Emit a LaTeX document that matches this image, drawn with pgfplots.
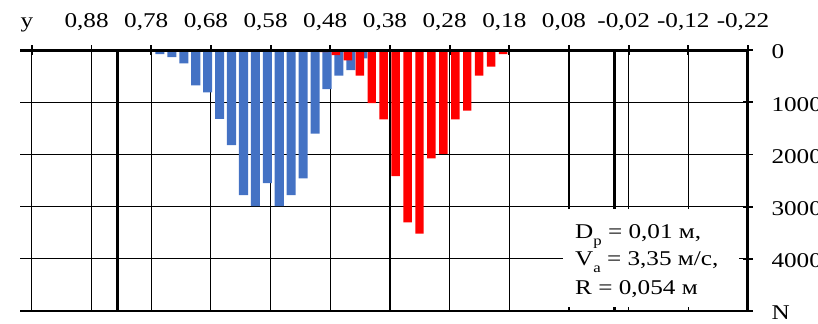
\documentclass[border=0pt]{standalone}
\usepackage{pgfplots}
\pgfplotsset{compat=1.18}
\usepackage{pgfplotstable}
\usepackage{fontspec}
\setmainfont[FakeStretch=1.2]{Liberation Serif}
\definecolor{bblue}{RGB}{68,114,196}
\definecolor{rred}{RGB}{255,0,0}

\pgfplotstableread{
x n
0.7855 30
0.7655 80
0.7455 135
0.7255 255
0.7055 680
0.6855 810
0.6655 1320
0.6455 1820
0.6255 2780
0.6055 2990
0.5855 2550
0.5655 2990
0.5455 2780
0.5255 2460
0.5055 1600
0.4855 750
0.4655 490
0.4455 385
0.4255 160
}\bluedata

\pgfplotstableread{
x n
0.4905 40
0.4705 100
0.4505 200
0.4305 492
0.4105 1020
0.3905 1328
0.3705 2414
0.3505 3300
0.3305 3520
0.3105 2075
0.2905 1992
0.2705 1328
0.2505 1162
0.2305 492
0.2105 319
0.1905 80
0.1705 20
}\reddata

\begin{document}
\begin{tikzpicture}
\begin{axis}[
  at={(20bp,13bp)}, anchor=south west,
  scale only axis, width=728bp, height=261bp,
  x dir=reverse, y dir=reverse,
  xmin=-0.22, xmax=1.0, ymin=0, ymax=5000,
  axis line style={draw=none},
  xtick={0.98,0.88,0.78,0.68,0.58,0.48,0.38,0.28,0.18,0.08,-0.02,-0.12,-0.22},
  xticklabels={y,{0,88},{0,78},{0,68},{0,58},{0,48},{0,38},{0,28},{0,18},{0,08},{-0,02},{-0,12},{-0,22}},
  ytick={0,1000,2000,3000,4000,5000},
  yticklabels={0,1000,2000,3000,4000,N},
  xtick pos=right, xticklabel pos=right,
  ytick pos=right, yticklabel pos=right,
  tick align=center, major tick length=10bp,
  tick style={black, line width=1.8bp},
  grid=major, grid style={black, line width=1.1bp},
  tick label style={font=\fontsize{21bp}{24bp}\selectfont},
  xticklabel style={anchor=base, xshift=-5bp, yshift=17bp},
  yticklabel style={anchor=west, xshift=15bp, yshift=-2bp},
]
\addplot[ybar, bar width=0.0152, bar shift=0pt, fill=bblue, draw=none] table[x=x,y=n] {\bluedata};
\addplot[ybar, bar width=0.0142, bar shift=0pt, fill=rred, draw=none] table[x=x,y=n] {\reddata};
\addplot[line width=3bp, black] coordinates {(0.836,0) (0.836,5000)};
\addplot[line width=3bp, black] coordinates {(0.003,0) (0.003,5000)};
\fill[white] (axis cs:0.09,3040) rectangle (axis cs:-0.205,4920);
\node[anchor=base west, inner sep=0, font=\fontsize{21bp}{24bp}\selectfont] at (axis cs:0.07,3602) {D\raisebox{-0.35em}{\fontsize{14bp}{14bp}\selectfont p} = 0,01 м,};
\node[anchor=base west, inner sep=0, font=\fontsize{21bp}{24bp}\selectfont] at (axis cs:0.07,4119) {V\raisebox{-0.35em}{\fontsize{14bp}{14bp}\selectfont a} = 3,35 м/с,};
\node[anchor=base west, inner sep=0, font=\fontsize{21bp}{24bp}\selectfont] at (axis cs:0.07,4693) {R = 0,054 м};
\draw[line width=3bp, black] (axis cs:1.0,0) -- (axis cs:-0.232,0);
\draw[line width=3bp, black] (axis cs:-0.22,0) -- (axis cs:-0.22,5000);
\end{axis}
\pgfresetboundingbox
\path[use as bounding box] (0,0) rectangle (818bp,324bp);
\end{tikzpicture}
\end{document}
